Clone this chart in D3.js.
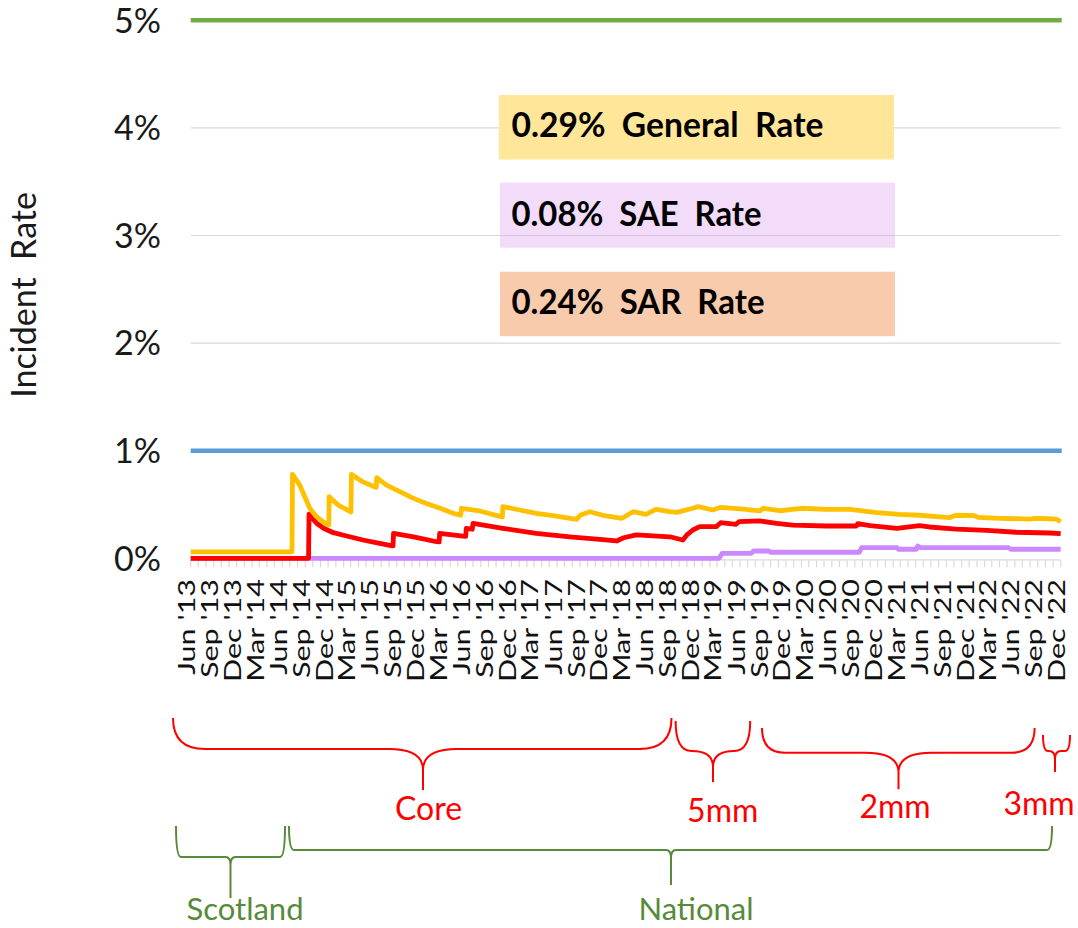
<!DOCTYPE html>
<html><head><meta charset="utf-8">
<script src="https://cdn.jsdelivr.net/npm/d3@7"></script>
<style>body{margin:0;background:#fff}text{font-family:Lato,"Open Sans",sans-serif}</style>
</head><body>
<svg id="chart" width="1078" height="928"></svg>
<script>
// ---------- DATA ----------
const yTickValues = [0, 1, 2, 3, 4, 5];
const tickLabels = ["Jun '13","Sep '13","Dec '13","Mar '14","Jun '14","Sep '14","Dec '14","Mar '15","Jun '15","Sep '15","Dec '15","Mar '16","Jun '16","Sep '16","Dec '16","Mar '17","Jun '17","Sep '17","Dec '17","Mar '18","Jun '18","Sep '18","Dec '18","Mar '19","Jun '19","Sep '19","Dec '19","Mar '20","Jun '20","Sep '20","Dec '20","Mar '21","Jun '21","Sep '21","Dec '21","Mar '22","Jun '22","Sep '22","Dec '22"];
const thresholds = [{value: 5, name: "5% limit"}, {value: 1, name: "1% limit"}];

const generalRate = [
 ["2013-06-01",0.06],["2014-07-10",0.06],["2014-07-12",0.78],["2014-08-10",0.68],["2014-09-01",0.56],
 ["2014-09-19",0.465],["2014-10-16",0.387],["2014-11-25",0.316],["2014-12-04",0.31],["2014-12-05",0.573],
 ["2015-01-10",0.495],["2015-02-28",0.433],["2015-03-02",0.43],["2015-03-04",0.78],["2015-04-19",0.71],
 ["2015-06-04",0.665],["2015-06-11",0.66],["2015-06-13",0.75],["2015-07-22",0.68],["2015-09-13",0.62],
 ["2015-11-07",0.557],["2015-12-28",0.51],["2016-02-21",0.465],["2016-04-13",0.418],["2016-05-13",0.40],
 ["2016-05-16",0.465],["2016-07-28",0.44],["2016-10-16",0.39],["2016-10-26",0.385],["2016-10-28",0.48],
 ["2017-01-04",0.449],["2017-03-10",0.418],["2017-05-16",0.396],["2017-08-19",0.362],["2017-09-01",0.40],
 ["2017-10-10",0.433],["2017-12-01",0.40],["2018-02-15",0.372],["2018-04-01",0.433],["2018-05-22",0.409],
 ["2018-07-01",0.455],["2018-08-25",0.433],["2018-09-22",0.427],["2018-11-25",0.465],["2018-12-16",0.48],
 ["2019-02-12",0.449],["2019-03-16",0.474],["2019-06-13",0.458],["2019-08-19",0.44],["2019-09-01",0.465],
 ["2019-11-07",0.442],["2020-02-01",0.465],["2020-05-10",0.455],["2020-08-13",0.455],["2020-11-28",0.424],
 ["2021-02-26",0.409],["2021-05-16",0.40],["2021-09-13",0.378],["2021-10-10",0.40],["2021-12-22",0.396],
 ["2022-01-07",0.38],["2022-04-01",0.372],["2022-07-28",0.365],["2022-08-25",0.372],["2022-11-13",0.365],
 ["2022-12-01",0.34]
];
const sarRate = [
 ["2013-06-01",0],["2014-09-14",0],["2014-09-16",0.41],["2014-10-16",0.325],["2014-11-13",0.279],
 ["2014-12-22",0.238],["2015-02-13",0.207],["2015-04-19",0.17],["2015-06-25",0.139],["2015-08-10",0.117],
 ["2015-08-17",0.115],["2015-08-19",0.232],["2015-11-07",0.20],["2016-02-07",0.154],["2016-02-17",0.152],
 ["2016-02-19",0.232],["2016-05-22",0.207],["2016-06-02",0.205],["2016-06-04",0.279],["2016-06-28",0.27],
 ["2016-07-01",0.325],["2016-10-28",0.279],["2017-03-10",0.232],["2017-07-22",0.20],["2017-11-07",0.179],
 ["2018-01-25",0.161],["2018-02-22",0.191],["2018-04-13",0.217],["2018-08-25",0.20],["2018-10-16",0.17],
 ["2018-11-01",0.217],["2018-11-25",0.263],["2018-12-22",0.294],["2019-02-26",0.294],["2019-03-16",0.331],
 ["2019-05-16",0.316],["2019-05-28",0.34],["2019-08-19",0.347],["2019-10-25",0.325],["2019-12-28",0.309],
 ["2020-05-10",0.30],["2020-09-07",0.30],["2020-09-13",0.322],["2020-11-01",0.303],["2021-02-16",0.279],
 ["2021-05-16",0.303],["2021-06-25",0.291],["2021-10-10",0.272],["2022-02-10",0.26],["2022-06-07",0.242],
 ["2022-10-19",0.235],["2022-12-01",0.229]
];
const saeRate = [
 ["2013-06-01",0],["2019-03-10",0],["2019-03-22",0.046],["2019-07-16",0.046],["2019-07-25",0.068],
 ["2019-09-25",0.068],["2019-10-01",0.056],["2020-09-19",0.056],["2020-09-28",0.099],["2021-02-16",0.099],
 ["2021-02-22",0.084],["2021-05-04",0.084],["2021-05-10",0.114],["2021-05-19",0.099],["2022-05-07",0.099],
 ["2022-05-16",0.084],["2022-12-01",0.084]
];
const rateBoxLabels = ["0.29%  General  Rate", "0.08%  SAE  Rate", "0.24%  SAR  Rate"];
const phaseLabels = ["Core", "5mm", "2mm", "3mm"];
const regionLabels = ["Scotland", "National"];

// ---------- LAYOUT ----------
const svg = d3.select("#chart");
const parse = d3.timeParse("%Y-%m-%d");
const start = new Date(2013, 5, 1), end = new Date(2022, 11, 1);
const x = d3.scaleTime().domain([start, end]).range([190.7, 1060.7]);
const y = d3.scaleLinear().domain([0, 5]).range([558.3, 20.3]);

// gridlines
svg.append("g").selectAll("line").data(yTickValues.filter(v => v > 1 && v < 5)).join("line")
  .attr("x1", x.range()[0]).attr("x2", x.range()[1])
  .attr("y1", d => y(d)).attr("y2", d => y(d))
  .attr("stroke", "#d9d9d9").attr("stroke-width", 1.2);
// x axis baseline
svg.append("line").attr("x1", x.range()[0]).attr("x2", x.range()[1])
  .attr("y1", y(0) + 1.5).attr("y2", y(0) + 1.5).attr("stroke", "#d9d9d9").attr("stroke-width", 1.2);
// monthly ticks
const months = d3.timeMonth.range(start, d3.timeMonth.offset(end, 1));
svg.append("g").selectAll("line").data(months).join("line")
  .attr("x1", d => x(d)).attr("x2", d => x(d))
  .attr("y1", y(0) + 2).attr("y2", y(0) + 9)
  .attr("stroke", "#d9d9d9").attr("stroke-width", 1.2);

// y labels
svg.append("g").selectAll("text").data(yTickValues).join("text")
  .attr("x", 161).attr("y", d => y(d)).attr("dy", "0.36em")
  .attr("text-anchor", "end").attr("font-size", 34).attr("fill", "#1a1a1a")
  .text(d => d + "%");

// y title
svg.append("text").attr("transform", "translate(36,295) rotate(-90)")
  .attr("text-anchor", "middle").attr("font-size", 34).attr("fill", "#1a1a1a")
  .style("white-space", "pre")
  .text("Incident  Rate");

// x labels
svg.append("g").selectAll("text").data(tickLabels).join("text")
  .attr("transform", (d, i) => `translate(${x(d3.timeMonth.offset(start, 3 * i)) + 4.5},579) rotate(-90) scale(1,0.78)`)
  .attr("text-anchor", "end").attr("font-size", 30.5).attr("fill", "#111")
  .text(d => d);

// rate boxes
const boxes = [
  {x: 499, y: 95, w: 395, h: 64.5, fill: "#ffe699", op: 1, tl: 312, base: 137},
  {x: 500, y: 182.7, w: 395, h: 65, fill: "rgb(218,155,241)", op: 0.35, tl: 250, base: 225.5},
  {x: 500, y: 271.7, w: 395, h: 64.5, fill: "#f8cbad", op: 1, tl: 253, base: 313.5}
];
const bg = svg.append("g").selectAll("g").data(rateBoxLabels).join("g");
bg.append("rect").attr("x", (d, i) => boxes[i].x).attr("y", (d, i) => boxes[i].y)
  .attr("width", (d, i) => boxes[i].w).attr("height", (d, i) => boxes[i].h)
  .attr("fill", (d, i) => boxes[i].fill).attr("fill-opacity", (d, i) => boxes[i].op);
bg.append("text").attr("x", 511.5).attr("y", (d, i) => boxes[i].base)
  .attr("font-size", 34).attr("font-weight", 700).attr("fill", "#000")
  .style("white-space", "pre")
  .attr("textLength", (d, i) => boxes[i].tl).attr("lengthAdjust", "spacingAndGlyphs")
  .text(d => d);

// threshold lines
svg.append("g").selectAll("line").data(thresholds).join("line")
  .attr("x1", x.range()[0]).attr("x2", x.range()[1] + 1)
  .attr("y1", d => y(d.value)).attr("y2", d => y(d.value))
  .attr("stroke", d => d.value === 5 ? "#70ad47" : "#5b9bd5").attr("stroke-width", 4.5);

// series
const line = d3.line().x(d => x(parse(d[0]))).y(d => y(d[1]));
const series = [
  {data: saeRate, color: "#cc88ff"},
  {data: sarRate, color: "#ff0000"},
  {data: generalRate, color: "#ffc000"}
];
svg.append("g").selectAll("path").data(series).join("path")
  .attr("d", d => line(d.data)).attr("fill", "none")
  .attr("stroke", d => d.color).attr("stroke-width", 4.8)
  .attr("stroke-linejoin", "round");

// braces
function bracePath(b) {
  return `M${b.x1},${b.yTop} Q${b.x1},${b.yMid} ${b.x1 + b.rx},${b.yMid} L${b.xt - b.tx},${b.yMid} Q${b.xt},${b.yMid} ${b.xt},${b.yMid + b.ty} L${b.xt},${b.yTip} ` +
         `M${b.x2},${b.yTop} Q${b.x2},${b.yMid} ${b.x2 - b.rx},${b.yMid} L${b.xt + b.tx},${b.yMid} Q${b.xt},${b.yMid} ${b.xt},${b.yMid + b.ty}`;
}
const phaseBraces = [
  {x1: 173, x2: 671.5, xt: 423, yTop: 718, yMid: 749, yTip: 790, rx: 32, tx: 34, ty: 21, lx: 428.5, ly: 820},
  {x1: 675.6, x2: 750.2, xt: 713, yTop: 721, yMid: 751, yTip: 782, rx: 16, tx: 21, ty: 16, lx: 722.7, ly: 821.5},
  {x1: 762, x2: 1034.6, xt: 898.5, yTop: 728, yMid: 752.7, yTip: 789.3, rx: 23, tx: 33, ty: 20, lx: 895, ly: 818},
  {x1: 1043, x2: 1070, xt: 1055, yTop: 735, yMid: 751, yTip: 772, rx: 5, tx: 6, ty: 8, lx: 1039, ly: 815}
];
const regionBraces = [
  {x1: 176, x2: 285, xt: 230.5, yTop: 826, yMid: 857, yTip: 898, rx: 5, tx: 5, ty: 8, lx: 245, ly: 920},
  {x1: 289, x2: 1052, xt: 671, yTop: 826, yMid: 850, yTip: 885, rx: 5, tx: 5, ty: 8, lx: 696, ly: 920}
];
svg.append("g").selectAll("path").data(phaseBraces).join("path")
  .attr("d", bracePath).attr("fill", "none").attr("stroke", "#ff0000").attr("stroke-width", 2);
svg.append("g").selectAll("text").data(phaseLabels).join("text")
  .attr("x", (d, i) => phaseBraces[i].lx).attr("y", (d, i) => phaseBraces[i].ly)
  .attr("text-anchor", "middle").attr("font-size", 32).attr("fill", "#ff0000").text(d => d);
svg.append("g").selectAll("path").data(regionBraces).join("path")
  .attr("d", bracePath).attr("fill", "none").attr("stroke", "#578a3a").attr("stroke-width", 2);
svg.append("g").selectAll("text").data(regionLabels).join("text")
  .attr("x", (d, i) => regionBraces[i].lx).attr("y", (d, i) => regionBraces[i].ly)
  .attr("text-anchor", "middle").attr("font-size", 31).attr("fill", "#578a3a").text(d => d);
</script>
</body></html>
